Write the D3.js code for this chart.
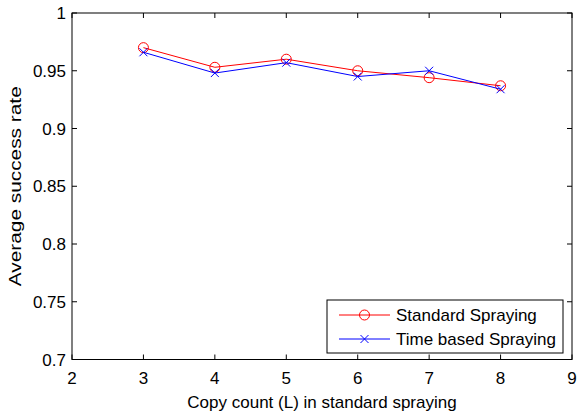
<!DOCTYPE html>
<html>
<head>
<script src="https://d3js.org/d3.v7.min.js"></script>
<style>
  body { margin: 0; background: white; }
  svg { font-family: "Liberation Sans", Arial, sans-serif; }
</style>
</head>
<body>
<svg width="578" height="412"></svg>
<script>
  // data
  var copyCount = [3, 4, 5, 6, 7, 8];
  var standardSpraying = [0.970, 0.953, 0.960, 0.950, 0.944, 0.937];
  var timeBasedSpraying = [0.966, 0.948, 0.957, 0.945, 0.950, 0.934];
  var xTicks = [2, 3, 4, 5, 6, 7, 8, 9];
  var yTicks = [0.7, 0.75, 0.8, 0.85, 0.9, 0.95, 1];

  var svg = d3.select("svg");
  var pLeft = 72, pRight = 572, pTop = 13, pBottom = 359.5;

  var xs = d3.scaleLinear().domain([2, 9]).range([pLeft, pRight]);
  var ys = d3.scaleLinear().domain([0.7, 1]).range([pBottom, pTop]);

  // plot box
  svg.append("rect").attr("x", pLeft).attr("y", pTop)
    .attr("width", pRight - pLeft).attr("height", pBottom - pTop)
    .attr("fill", "white").attr("stroke", "black").attr("stroke-width", 1);

  // ticks inward on all four sides
  var tl = 5;
  var g = svg.append("g").attr("stroke", "black").attr("stroke-width", 1);
  xTicks.forEach(function(t) {
    g.append("line").attr("x1", xs(t)).attr("x2", xs(t)).attr("y1", pBottom).attr("y2", pBottom - tl);
    g.append("line").attr("x1", xs(t)).attr("x2", xs(t)).attr("y1", pTop).attr("y2", pTop + tl);
  });
  yTicks.forEach(function(t) {
    g.append("line").attr("x1", pLeft).attr("x2", pLeft + tl).attr("y1", ys(t)).attr("y2", ys(t));
    g.append("line").attr("x1", pRight).attr("x2", pRight - tl).attr("y1", ys(t)).attr("y2", ys(t));
  });

  svg.selectAll(".xl").data(xTicks).enter().append("text")
    .attr("x", function(d) { return xs(d); }).attr("y", 384)
    .attr("text-anchor", "middle").style("font-size", "17px")
    .text(function(d) { return d; });

  svg.selectAll(".yl").data(yTicks).enter().append("text")
    .attr("x", pLeft - 6).attr("y", function(d) { return ys(d) + 6; })
    .attr("text-anchor", "end").style("font-size", "17px")
    .text(function(d) { return +d.toFixed(2); });

  svg.append("text").attr("x", (pLeft + pRight) / 2).attr("y", 408)
    .attr("text-anchor", "middle").style("font-size", "17px")
    .text("Copy count (L) in standard spraying");

  svg.append("text").attr("transform", "rotate(-90)")
    .attr("x", -(pTop + pBottom) / 2).attr("y", 21)
    .attr("text-anchor", "middle").style("font-size", "17px")
    .attr("textLength", 200).attr("lengthAdjust", "spacingAndGlyphs")
    .text("Average success rate");

  var line = d3.line().x(function(d) { return xs(d[0]); }).y(function(d) { return ys(d[1]); });

  function drawSeries(vals, color, marker) {
    var pts = copyCount.map(function(c, i) { return [c, vals[i]]; });
    svg.append("path").datum(pts).attr("d", line)
      .attr("fill", "none").attr("stroke", color).attr("stroke-width", 1);
    pts.forEach(function(p) { marker(svg, xs(p[0]), ys(p[1]), color); });
  }

  function circleMarker(sel, x, y, color) {
    sel.append("circle").attr("cx", x).attr("cy", y).attr("r", 5)
      .attr("fill", "none").attr("stroke", color).attr("stroke-width", 1);
  }
  function crossMarker(sel, x, y, color) {
    var s = 4;
    sel.append("path").attr("d", "M" + (x - s) + "," + (y - s) + "L" + (x + s) + "," + (y + s) +
      "M" + (x - s) + "," + (y + s) + "L" + (x + s) + "," + (y - s))
      .attr("stroke", color).attr("stroke-width", 1);
  }

  drawSeries(standardSpraying, "red", circleMarker);
  drawSeries(timeBasedSpraying, "blue", crossMarker);

  // legend
  var lg = svg.append("g");
  lg.append("rect").attr("x", 327).attr("y", 300).attr("width", 236).attr("height", 53)
    .attr("fill", "white").attr("stroke", "black").attr("stroke-width", 1);
  var entries = [["Standard Spraying", "red", circleMarker], ["Time based Spraying", "blue", crossMarker]];
  entries.forEach(function(e, i) {
    var cy = 315 + i * 24;
    lg.append("line").attr("x1", 339).attr("x2", 390).attr("y1", cy).attr("y2", cy)
      .attr("stroke", e[1]).attr("stroke-width", 1);
    e[2](lg, 364.5, cy, e[1]);
    lg.append("text").attr("x", 396).attr("y", cy + 6).style("font-size", "17px").text(e[0]);
  });
</script>
</body>
</html>
